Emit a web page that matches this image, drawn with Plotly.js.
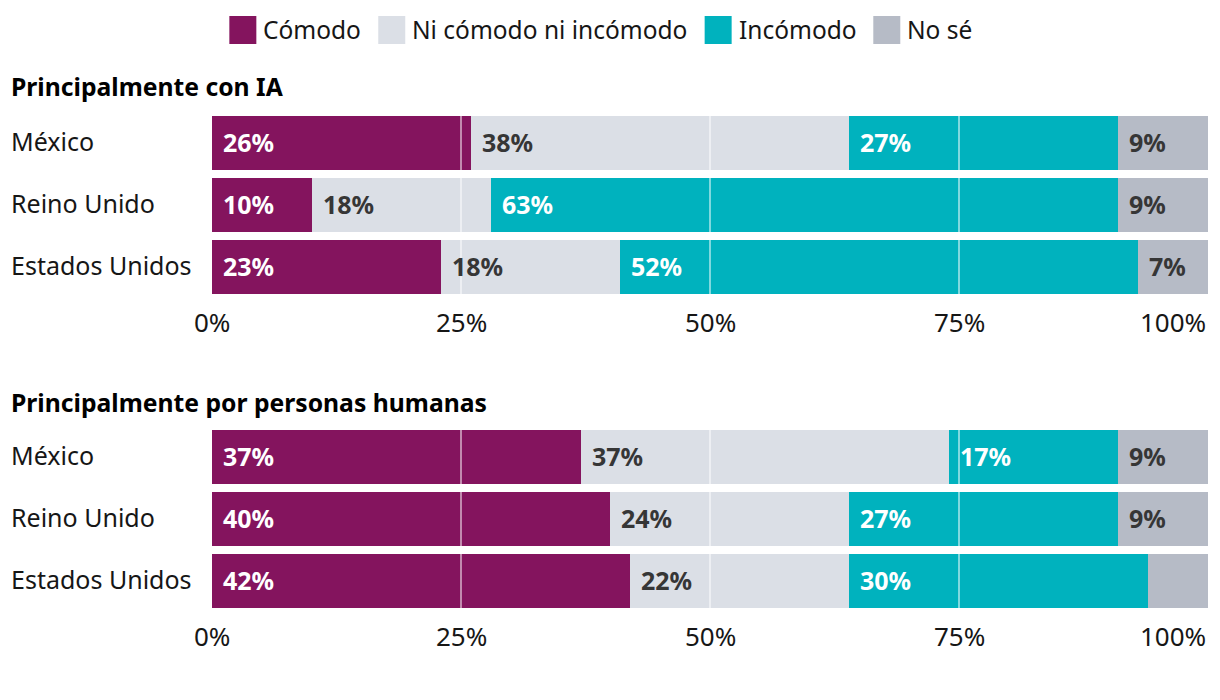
<!DOCTYPE html>
<html>
<head>
<meta charset="utf-8">
<script src="https://cdn.plot.ly/plotly-3.0.1.min.js"></script>
<style>html,body{margin:0;padding:0;background:#fff;}#chart{width:1220px;height:700px;}</style>
</head>
<body>
<div id="chart"></div>
<script>
// ---- Data ----
const countries = ['México', 'Reino Unido', 'Estados Unidos'];
const seriesNames = ['Cómodo', 'Ni cómodo ni incómodo', 'Incómodo', 'No sé'];
const panelTitles = ['Principalmente con IA', 'Principalmente por personas humanas'];

const iaComodo   = [26, 10, 23];
const iaNeutral  = [38, 18, 18];
const iaIncomodo = [27, 63, 52];
const iaNoSe     = [9, 9, 7];

const humComodo   = [37, 40, 42];
const humNeutral  = [37, 24, 22];
const humIncomodo = [17, 27, 30];
const humNoSe     = [9, 9, 6];
const humNoSeShowLabel = [true, true, false];

const tickVals = [0, 25, 50, 75, 100];
const tickText = ['0%', '25%', '50%', '75%', '100%'];
const gridVals = [25, 50, 75];

// ---- Styles ----
const colors = ['#84145E', '#DBDFE6', '#00B2BE', '#B6BBC6'];
const labelColors = ['#FFFFFF', '#363636', '#FFFFFF', '#363636'];
const FONT = '"Noto Sans", "Open Sans", sans-serif';
const W = 1220, H = 700;
const M = {l: 212, r: 12, t: 112, b: 88};
const plotW = W - M.l - M.r, plotH = H - M.t - M.b;
const pxX = px => (px - M.l) / plotW;
const pxY = py => (H - M.b - py) / plotH;

const panels = [
  {series: [iaComodo, iaNeutral, iaIncomodo, iaNoSe], show: [null, null, null, null], xa: 'x', ya: 'y', dom: [pxY(298), 1], titleY: 87},
  {series: [humComodo, humNeutral, humIncomodo, humNoSe], show: [null, null, null, humNoSeShowLabel], xa: 'x2', ya: 'y2', dom: [0, pxY(426)], titleY: 402}
];

const traces = [];
const annotations = [];
const shapes = [];

panels.forEach((p, pi) => {
  const cum = countries.map(() => 0);
  p.series.forEach((vals, si) => {
    traces.push({
      type: 'bar', orientation: 'h', y: countries, x: vals,
      name: seriesNames[si], marker: {color: colors[si], line: {width: 0}},
      xaxis: p.xa, yaxis: p.ya, showlegend: false, hoverinfo: 'skip', textposition: 'none'
    });
    vals.forEach((v, ci) => {
      const showArr = p.show[si];
      if (!showArr || showArr[ci]) {
        annotations.push({
          xref: p.xa, yref: p.ya, x: cum[ci], y: countries[ci], xanchor: 'left', yanchor: 'middle',
          xshift: 9, yshift: 1, showarrow: false, text: v + '%',
          font: {family: FONT, size: 25, color: labelColors[si], weight: 700}
        });
      }
      cum[ci] += v;
    });
  });
  // category labels
  countries.forEach(c => annotations.push({
    xref: 'paper', yref: p.ya, x: pxX(9), y: c, xanchor: 'left', yanchor: 'middle', yshift: 2,
    showarrow: false, text: c, font: {family: FONT, size: 25, color: '#161616'}
  }));
  // panel title
  annotations.push({
    xref: 'paper', yref: 'paper', x: pxX(9), y: pxY(p.titleY), xanchor: 'left', yanchor: 'middle',
    showarrow: false, text: '<b>' + panelTitles[pi] + '</b>', font: {family: FONT, size: 24.7, color: '#000'}
  });
  // tick labels
  tickVals.forEach((tv, ti) => annotations.push({
    xref: p.xa, yref: 'paper', x: tv, y: p.dom[0], yanchor: 'middle', yshift: -24,
    xanchor: ti === tickVals.length - 1 ? 'right' : 'center',
    showarrow: false, text: tickText[ti], font: {family: FONT, size: 26, color: '#161616'}
  }));
  // gridlines above bars
  gridVals.forEach(g => shapes.push({
    type: 'line', xref: p.xa, yref: p.ya + ' domain', x0: g, x1: g, y0: 0, y1: 1,
    line: {color: 'rgba(255,255,255,0.5)', width: 2}, layer: 'above'
  }));
});

// ---- Custom legend ----
const LEG_SIZE = 24.5;
const cv = document.createElement('canvas').getContext('2d');
cv.font = LEG_SIZE + 'px ' + FONT;
const sw = 27, gapST = 5, gapItem = 19;
const widths = seriesNames.map(n => cv.measureText(n).width);
let total = 0;
widths.forEach((w, i) => { total += sw + gapST + w + (i < widths.length - 1 ? gapItem : 0); });
let cx = 600 - total / 2;
seriesNames.forEach((n, i) => {
  shapes.push({type: 'rect', xref: 'paper', yref: 'paper', x0: pxX(cx), x1: pxX(cx + sw),
    y0: pxY(44), y1: pxY(16), fillcolor: colors[i], line: {width: 0}});
  annotations.push({xref: 'paper', yref: 'paper', x: pxX(cx + sw + gapST), y: pxY(29),
    xanchor: 'left', yanchor: 'middle', showarrow: false, text: n,
    font: {family: FONT, size: LEG_SIZE, color: '#161616'}});
  cx += sw + gapST + widths[i] + gapItem;
});

const axX = {range: [0, 100], showgrid: false, zeroline: false, showticklabels: false, ticks: '', fixedrange: true};
const axY = {range: [2.5, -0.5], type: 'category', showgrid: false, zeroline: false, showticklabels: false, ticks: '', fixedrange: true};

const layout = {
  width: W, height: H, margin: M,
  paper_bgcolor: '#fff', plot_bgcolor: '#fff',
  barmode: 'stack', bargap: 8 / 62, showlegend: false,
  font: {family: FONT},
  xaxis: Object.assign({}, axX, {anchor: 'y'}),
  yaxis: Object.assign({}, axY, {domain: panels[0].dom, anchor: 'x'}),
  xaxis2: Object.assign({}, axX, {anchor: 'y2'}),
  yaxis2: Object.assign({}, axY, {domain: panels[1].dom, anchor: 'x2'}),
  annotations: annotations, shapes: shapes
};

Plotly.newPlot('chart', traces, layout, {displayModeBar: false, staticPlot: true});
</script>
</body>
</html>
